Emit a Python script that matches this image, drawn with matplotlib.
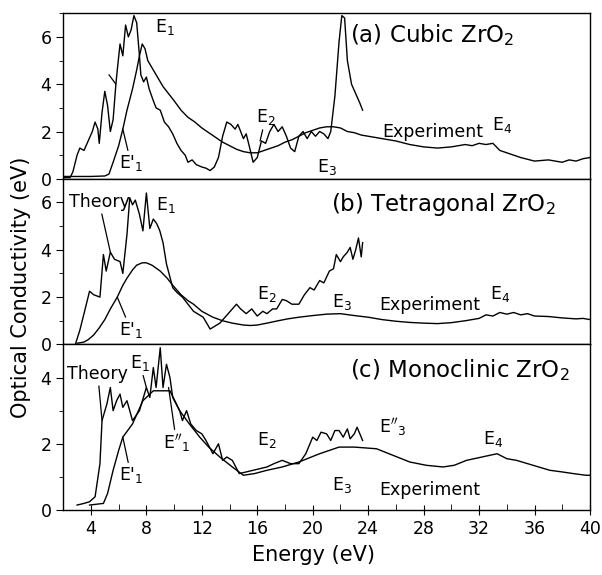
import matplotlib
matplotlib.use("Agg")
from matplotlib import pyplot as plt
from matplotlib.ticker import MultipleLocator

# (a) cubic ZrO2
a_theory_e = [2.0, 2.5, 2.7, 3.0, 3.2, 3.5, 3.8, 4.1, 4.3, 4.5, 4.6, 4.8, 5.0, 5.2, 5.4, 5.6,
              5.8, 5.9, 6.1, 6.3, 6.5, 6.7, 6.9, 7.1, 7.3, 7.5, 7.6, 7.8, 8.0, 8.2, 8.5, 8.7,
              9.0, 9.3, 9.6, 9.9, 10.2, 10.5, 10.8, 11.0, 11.3, 11.6, 12.0, 12.3, 12.6, 12.9,
              13.2, 13.5, 13.8, 14.1, 14.4, 14.6, 15.0, 15.2, 15.5, 15.7, 16.0, 16.3, 16.6,
              16.9, 17.2, 17.5, 17.8, 18.1, 18.4, 18.7, 19.0, 19.3, 19.6, 19.9, 20.2, 20.5,
              20.8, 21.1, 21.3, 21.6, 21.9, 22.1, 22.3, 22.5, 22.8, 23.1, 23.4, 23.6]
a_theory_v = [0.05, 0.05, 0.3, 1.0, 1.3, 1.2, 1.6, 2.0, 2.4, 2.1, 1.5, 2.8, 3.7, 3.1, 2.0, 2.5,
              4.0, 4.6, 5.7, 5.2, 6.5, 6.0, 6.3, 6.9, 6.6, 5.2, 4.4, 4.1, 4.3, 3.8, 3.3, 3.0,
              2.9, 2.4, 2.2, 1.9, 1.5, 1.2, 1.0, 0.7, 0.8, 0.6, 0.5, 0.45, 0.35, 0.5,
              0.9, 1.8, 2.4, 2.3, 2.1, 2.3, 1.7, 1.9, 1.2, 0.7, 0.9, 1.6, 1.5,
              2.0, 2.3, 2.0, 2.2, 1.8, 1.3, 1.15, 1.8, 2.0, 1.7, 2.0, 1.8, 2.0,
              1.9, 1.7, 2.0, 3.5, 5.8, 6.9, 6.8, 5.0, 4.0, 3.6, 3.2, 2.9]
a_exp_e = [2.0, 3.0, 4.0, 5.0, 5.3, 5.6, 6.0, 6.3, 6.6, 7.0, 7.3, 7.5, 7.7, 7.9, 8.1, 8.4,
           8.8, 9.2, 9.6, 10.0, 10.5, 11.0, 11.5, 12.0, 12.5, 13.0, 13.5, 14.0, 14.5, 15.0,
           15.5, 16.0, 16.5, 17.0, 17.5, 18.0, 18.5, 19.0, 19.5, 20.0, 20.5, 21.0, 21.5,
           22.0, 22.5, 23.0, 23.5, 24.0, 25.0, 26.0, 27.0, 28.0, 29.0, 30.0, 31.0, 31.5,
           32.0, 32.5, 33.0, 33.5, 34.0, 35.0, 36.0, 37.0, 38.0, 38.5, 39.0, 39.5, 40.0]
a_exp_v = [0.1, 0.1, 0.1, 0.12, 0.2, 0.7, 1.4, 2.1, 2.9, 3.8, 4.6, 5.2, 5.7, 5.5, 5.0, 4.7,
           4.3, 3.9, 3.6, 3.3, 2.9, 2.6, 2.4, 2.15, 1.95, 1.75, 1.55, 1.4, 1.25, 1.15,
           1.1, 1.1, 1.2, 1.3, 1.4, 1.55, 1.65, 1.8, 1.95, 2.05, 2.15, 2.2, 2.2,
           2.15, 2.0, 1.95, 1.85, 1.8, 1.7, 1.6, 1.45, 1.35, 1.3, 1.35, 1.45, 1.4,
           1.5, 1.45, 1.5, 1.2, 1.1, 0.9, 0.75, 0.8, 0.7, 0.8, 0.75, 0.85, 0.9]

# (b) tetragonal ZrO2
b_theory_e = [2.9, 3.2, 3.5, 3.9, 4.2, 4.65, 4.9, 5.1, 5.4, 5.7, 6.1, 6.3, 6.6, 6.8, 7.0, 7.2,
              7.5, 7.75, 8.0, 8.25, 8.5, 8.75, 8.97, 9.2, 9.45, 9.9, 10.2, 10.6, 11.0, 11.4,
              12.1, 12.6, 13.3, 13.9, 14.5, 14.8, 15.2, 15.6, 16.0, 16.4, 16.7, 17.1, 17.4,
              17.8, 18.1, 18.5, 19.0, 19.4, 19.8, 20.1, 20.5, 20.8, 21.2, 21.5, 21.7, 22.0,
              22.2, 22.5, 22.7, 22.9, 23.1, 23.3, 23.5, 23.6]
b_theory_v = [0.05, 0.6, 1.3, 2.25, 2.1, 2.0, 3.8, 3.1, 3.9, 3.6, 3.5, 3.0, 4.65, 6.2, 5.9, 6.1,
              5.5, 4.8, 6.4, 4.9, 5.3, 5.1, 4.8, 4.3, 3.4, 2.4, 2.2, 2.0, 1.7, 1.4,
              1.15, 0.65, 0.9, 1.3, 1.7, 1.5, 1.3, 1.5, 1.2, 1.4, 1.3, 1.5, 1.5,
              1.9, 1.85, 1.7, 1.7, 2.1, 2.4, 2.3, 2.7, 2.6, 3.1, 3.2, 3.8, 3.5,
              3.7, 3.9, 4.1, 3.6, 4.0, 4.5, 3.7, 4.3]
b_exp_e = [3.0, 3.5, 3.8, 4.2, 4.6, 5.0, 5.4, 5.9, 6.3, 6.6, 7.0, 7.3, 7.7, 8.0, 8.4, 9.0,
           9.5, 9.9, 10.5, 11.0, 11.4, 12.0, 12.8, 13.5, 14.2, 15.0, 15.5, 16.0, 16.7, 17.5,
           18.2, 19.0, 20.0, 21.0, 22.0, 23.0, 24.0, 25.0, 26.0, 27.0, 28.0, 29.0, 30.0,
           31.0, 32.0, 32.5, 33.0, 33.5, 34.0, 34.5, 35.0, 35.5, 36.0, 37.0, 38.0, 39.0,
           39.5, 40.0]
b_exp_v = [0.05, 0.1, 0.2, 0.4, 0.7, 1.05, 1.5, 2.0, 2.5, 2.8, 3.15, 3.35, 3.45, 3.45, 3.35, 3.1,
           2.8, 2.5, 2.1, 1.85, 1.7, 1.4, 1.15, 1.0, 0.9, 0.82, 0.8, 0.82, 0.9, 1.0,
           1.08, 1.15, 1.22, 1.28, 1.3, 1.22, 1.15, 1.05, 0.98, 0.93, 0.9, 0.88, 0.92,
           1.0, 1.1, 1.25, 1.2, 1.35, 1.28, 1.35, 1.25, 1.3, 1.2, 1.18, 1.12, 1.08,
           1.1, 1.05]

# (c) monoclinic ZrO2
c_theory_e = [3.0, 3.5, 3.9, 4.3, 4.65, 4.8, 5.15, 5.4, 5.6, 5.85, 6.1, 6.3, 6.6, 7.0, 7.5,
              8.0, 8.25, 8.5, 8.7, 9.0, 9.2, 9.45, 9.7, 9.9, 10.4, 10.6, 10.9, 11.2, 11.6,
              12.0, 12.3, 12.8, 13.2, 13.5, 13.8, 14.2, 14.7, 15.2, 15.7, 16.2, 16.7, 17.2,
              17.8, 18.4, 19.0, 19.5, 20.0, 20.3, 20.6, 21.0, 21.3, 21.6, 21.9, 22.2, 22.5,
              22.7, 23.0, 23.2, 23.6]
c_theory_v = [0.15, 0.2, 0.25, 0.4, 1.4, 2.7, 3.2, 3.7, 3.0, 3.3, 3.5, 3.1, 3.3, 2.7, 3.0,
              3.7, 3.4, 4.3, 3.7, 4.9, 3.7, 4.4, 4.0, 3.4, 3.0, 2.7, 3.0, 2.6, 2.4,
              2.3, 2.1, 1.7, 2.0, 1.5, 1.6, 1.5, 1.1, 1.15, 1.2, 1.25, 1.3, 1.4,
              1.5, 1.4, 1.4, 1.7, 2.2, 2.1, 2.35, 2.3, 2.1, 2.4, 2.4, 2.2, 2.45,
              2.15, 2.3, 2.5, 2.1]
c_exp_e = [3.9, 4.9, 5.2, 5.6, 6.0, 6.3, 7.0, 7.75, 8.5, 9.1, 9.7, 10.4, 11.1, 11.85, 12.5,
           13.3, 14.2, 15.0, 15.8, 16.7, 17.8, 19.0, 20.5, 21.9, 23.0, 24.6, 25.8, 27.0,
           28.2, 29.4, 30.2, 31.1, 32.2, 33.3, 34.0, 34.7, 35.5, 36.3, 37.1, 38.0, 38.8,
           39.7, 40.0]
c_exp_v = [0.15, 0.2, 0.5, 1.2, 1.8, 2.2, 2.6, 3.3, 3.6, 3.6, 3.6, 3.0, 2.6, 2.2, 1.9,
           1.6, 1.3, 1.05, 1.1, 1.2, 1.3, 1.45, 1.7, 1.9, 1.9, 1.85, 1.65, 1.45,
           1.35, 1.3, 1.35, 1.5, 1.6, 1.7, 1.55, 1.5, 1.4, 1.3, 1.2, 1.15, 1.1,
           1.05, 1.05]

panel_titles = ["(a) Cubic ZrO$_2$", "(b) Tetragonal ZrO$_2$", "(c) Monoclinic ZrO$_2$"]
title_x = [22.7, 21.3, 22.7]
title_y = [0.866, 0.845, 0.843]
y_tops = [7, 7, 5]

fig, axes = plt.subplots(3, 1, sharex=True, figsize=(6.02, 5.75), dpi=100)
fig.subplots_adjust(left=0.105, right=0.98, bottom=0.113, top=0.977, hspace=0)

data = [(a_theory_e, a_theory_v, a_exp_e, a_exp_v),
        (b_theory_e, b_theory_v, b_exp_e, b_exp_v),
        (c_theory_e, c_theory_v, c_exp_e, c_exp_v)]

for i, ax in enumerate(axes):
    te, tv, ee, ev = data[i]
    ax.plot(te, tv, c='black', lw=1.0)
    ax.plot(ee, ev, c='black', lw=1.0)
    ax.set_xlim(2, 40)
    ax.set_ylim(0, y_tops[i])
    ax.yaxis.set_major_locator(MultipleLocator(2))
    ax.yaxis.set_minor_locator(MultipleLocator(1))
    ax.tick_params(axis='y', which='major', direction='out', length=5, labelsize=12.5)
    ax.tick_params(axis='y', which='minor', direction='out', length=3)
    ax.tick_params(axis='x', which='both', length=0)
    ax.text(title_x[i], title_y[i], panel_titles[i], transform=ax.get_xaxis_transform(),
            ha='left', va='center', fontsize=16.5)
    for sp in ax.spines.values():
        sp.set_linewidth(1.0)

ax_c = axes[2]
ax_c.xaxis.set_major_locator(MultipleLocator(4))
ax_c.xaxis.set_minor_locator(MultipleLocator(2))
ax_c.tick_params(axis='x', which='major', direction='inout', length=7, labelsize=12.5)
ax_c.tick_params(axis='x', which='minor', direction='in', length=4)
axes[0].set_yticks([0, 2, 4, 6])
axes[1].set_yticks([0, 2, 4, 6])

lab = dict(fontsize=12.5)
line = dict(arrowstyle='-', lw=0.9, color='black', shrinkA=0, shrinkB=0)

# panel a labels
ax = axes[0]
ax.text(8.6, 6.2, "E$_1$", **lab)
ax.annotate("E$'_1$", xy=(6.3, 2.1), xytext=(6.0, 0.45), arrowprops=line, **lab)
ax.annotate("", xy=(5.8, 4.0), xytext=(5.3, 4.4), arrowprops=line)
ax.annotate("E$_2$", xy=(16.2, 1.6), xytext=(15.9, 2.4), arrowprops=line, **lab)
ax.text(20.3, 0.3, "E$_3$", **lab)
ax.text(25.0, 1.75, "Experiment", **lab)
ax.text(32.9, 2.05, "E$_4$", **lab)

# panel b labels
ax = axes[1]
ax.annotate("Theory", xy=(5.4, 3.9), xytext=(2.4, 5.8), arrowprops=line, **lab)
ax.text(8.7, 5.7, "E$_1$", **lab)
ax.annotate("E$'_1$", xy=(5.9, 2.0), xytext=(6.0, 0.4), arrowprops=line, **lab)
ax.text(16.0, 1.9, "E$_2$", **lab)
ax.text(21.4, 1.6, "E$_3$", **lab)
ax.text(24.8, 1.45, "Experiment", **lab)
ax.text(32.8, 1.9, "E$_4$", **lab)

# panel c labels
ax = axes[2]
ax.annotate("Theory", xy=(4.8, 2.7), xytext=(2.3, 3.95), arrowprops=line, **lab)
ax.annotate("E$_1$", xy=(8.0, 3.7), xytext=(6.8, 4.3), arrowprops=line, **lab)
ax.annotate("E$''_1$", xy=(9.6, 3.7), xytext=(9.2, 1.85), arrowprops=line, **lab)
ax.annotate("E$'_1$", xy=(6.3, 2.2), xytext=(6.0, 0.9), arrowprops=line, **lab)
ax.text(16.0, 1.95, "E$_2$", **lab)
ax.text(24.8, 2.35, "E$''_3$", **lab)
ax.text(32.3, 2.0, "E$_4$", **lab)
ax.text(21.4, 0.6, "E$_3$", **lab)
ax.text(24.8, 0.45, "Experiment", **lab)

fig.text(0.035, 0.5, "Optical Conductivity (eV)", rotation=90, ha='center', va='center', fontsize=15)
fig.text(0.52, 0.035, "Energy (eV)", ha='center', va='center', fontsize=15)

plt.savefig("out.png", dpi=100)
